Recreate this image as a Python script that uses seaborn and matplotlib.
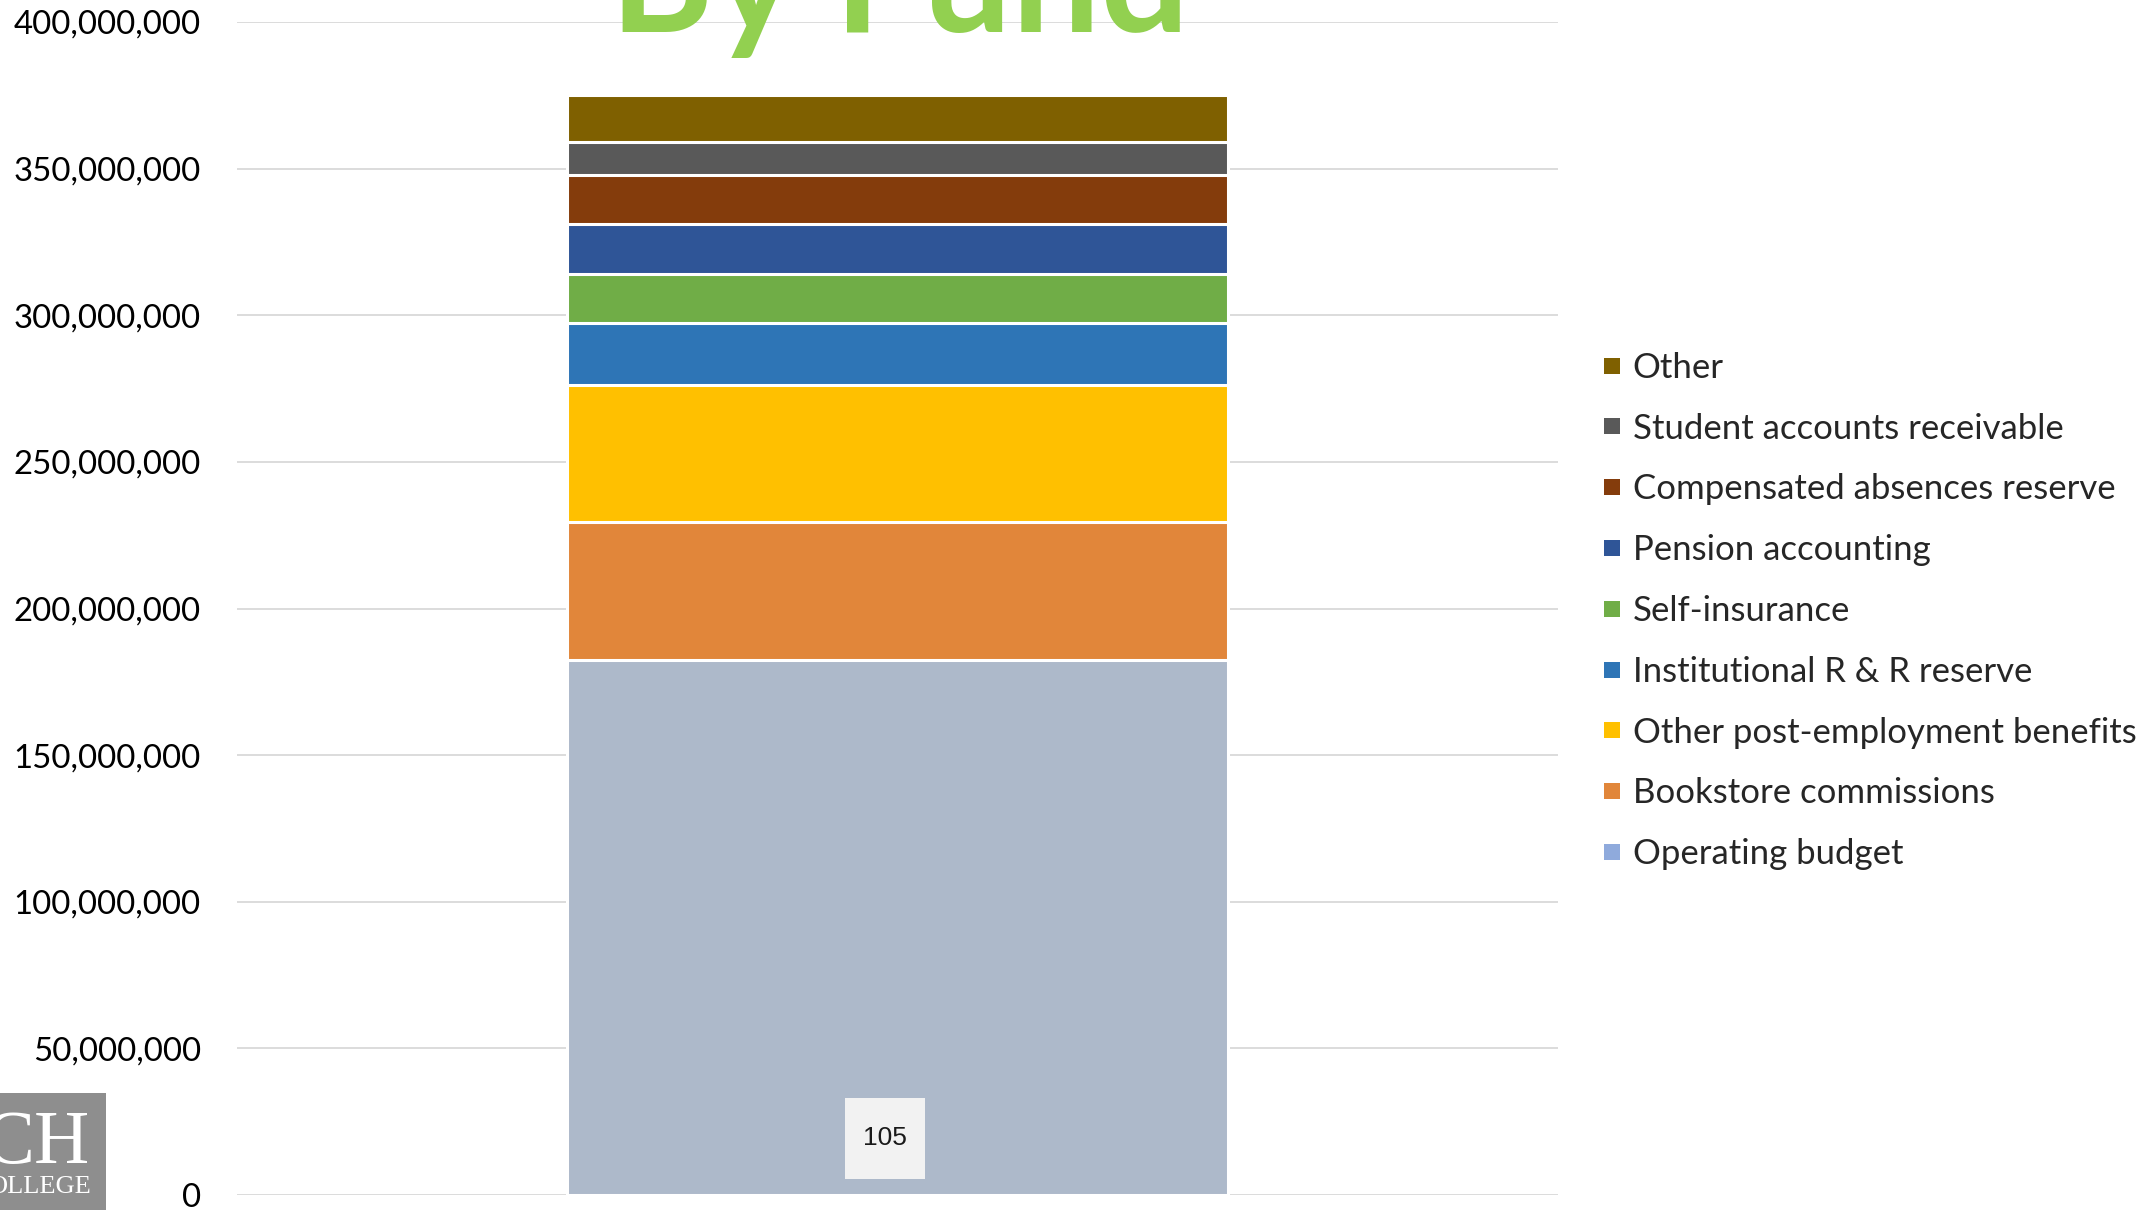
import matplotlib
matplotlib.use("Agg")
import matplotlib.pyplot as plt
from matplotlib.patches import Rectangle
from matplotlib.lines import Line2D
from matplotlib.ticker import FuncFormatter, MultipleLocator
import numpy as np
import pandas as pd
import seaborn as sns

# ---- data -------------------------------------------------------------
funds = [
    "Operating budget",
    "Bookstore commissions",
    "Other post-employment benefits",
    "Institutional R & R reserve",
    "Self-insurance",
    "Pension accounting",
    "Compensated absences reserve",
    "Student accounts receivable",
    "Other",
]
amounts = [182.5e6, 47.0e6, 46.8e6, 21.0e6, 16.9e6, 16.9e6, 16.6e6, 11.5e6, 16.0e6]

bar_colors = ["#ADB9CA", "#E1863A", "#FFC000", "#2E75B6", "#70AD47",
              "#2F5597", "#843C0C", "#595959", "#7F6000"]
legend_colors = ["#8FAADC", "#E1863A", "#FFC000", "#2E75B6", "#70AD47",
                 "#2F5597", "#843C0C", "#595959", "#7F6000"]

title_text = "By Fund"
slide_number = "105"

# ---- style ------------------------------------------------------------
sns.set_theme(style="white")
plt.rcParams["font.family"] = ["Lato", "DejaVu Sans"]

W, H = 2147, 1210
fig = plt.figure(figsize=(W / 100, H / 100), dpi=100)
fig.patch.set_facecolor("white")

ax = fig.add_axes([237 / W, (H - 1195) / H, 1321 / W, (1195 - 22) / H])
ax.set_facecolor("white")

# stacked column: draw cumulative totals from the top down so each
# segment sits on the one beneath it
cum = np.cumsum(amounts)
for i in range(len(funds) - 1, -1, -1):
    df = pd.DataFrame({"group": ["Fund"], "value": [cum[i]]})
    sns.barplot(data=df, x="group", y="value", color=bar_colors[i],
                saturation=1, width=0.5, edgecolor="white", linewidth=2.2,
                ax=ax, zorder=3)

ax.set_xlim(-0.5, 0.5)
ax.set_ylim(0, 400e6)
ax.yaxis.set_major_locator(MultipleLocator(50e6))
ax.yaxis.set_major_formatter(FuncFormatter(lambda v, p: f"{v:,.0f}"))
ax.grid(axis="y", color="#D9D9D9", linewidth=1.3, zorder=0)
ax.set_axisbelow(True)
ax.set_xticks([])
ax.set_xlabel("")
ax.set_ylabel("")
for s in ax.spines.values():
    s.set_visible(False)
ax.tick_params(axis="y", length=0, pad=26, labelsize=23.8, labelcolor="black")

# title, partly above the top edge
fig.text(900 / W, 1 - 32 / H, title_text, ha="center", va="baseline",
         fontsize=113, fontweight="bold", color="#92D050")

# legend, top entry first
handles = [Line2D([], [], marker="s", linestyle="none", markersize=11.5,
                  markerfacecolor=legend_colors[i], markeredgewidth=0)
           for i in range(len(funds) - 1, -1, -1)]
labels = [funds[i] for i in range(len(funds) - 1, -1, -1)]
fig.legend(handles, labels, loc="center left",
           bbox_to_anchor=(1603 / W, 1 - 611 / H), frameon=False,
           fontsize=25, handlelength=0.5, handletextpad=0.35,
           labelspacing=0.83, borderpad=0, borderaxespad=0)

# slide number box
fig.patches.append(Rectangle((845 / W, 1 - 1179 / H), 80 / W, 81 / H,
                             transform=fig.transFigure, facecolor="#F2F2F2",
                             edgecolor="none", zorder=5))
fig.text(885 / W, 1 - 1138 / H, slide_number, ha="center", va="center",
         fontsize=19, family="Liberation Sans", color="#1A1A1A", zorder=6)

# college logo corner
lax = fig.add_axes([0, 0, 106 / W, 117 / H])
lax.set_facecolor("#8E8E8E")
lax.set_xlim(0, 106)
lax.set_ylim(0, 117)
lax.set_xticks([])
lax.set_yticks([])
for s in lax.spines.values():
    s.set_visible(False)
lax.text(90, 47, "CH", ha="right", va="baseline", fontsize=55,
         family="Liberation Serif", color="white", clip_on=True)
lax.text(92, 17, "OLLEGE", ha="right", va="baseline", fontsize=19,
         family="Liberation Serif", color="white", clip_on=True)

fig.savefig("out.png", dpi=100)
